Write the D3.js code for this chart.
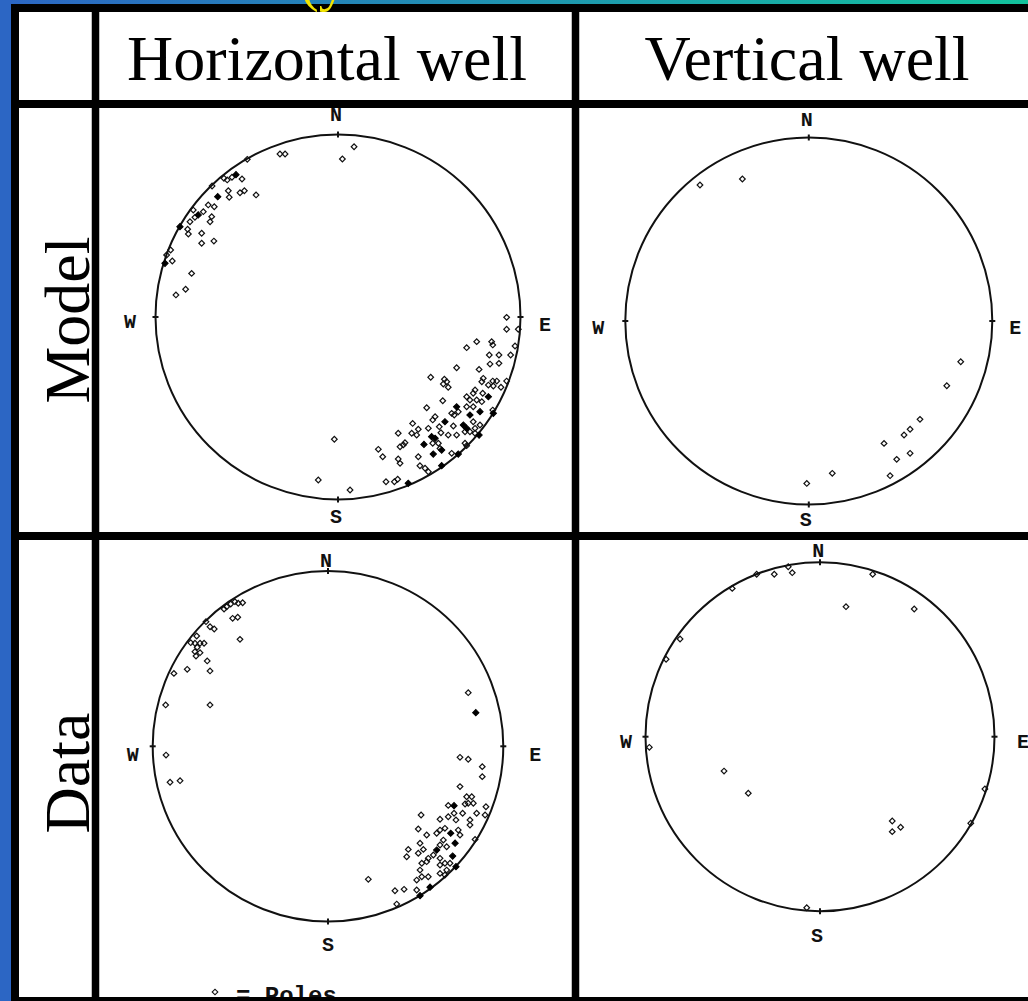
<!DOCTYPE html>
<html>
<head>
<meta charset="utf-8">
<script src="https://cdn.jsdelivr.net/npm/d3@7/dist/d3.min.js"></script>
<style>
  html, body { margin: 0; padding: 0; background: #ffffff; }
  svg { display: block; }
</style>
</head>
<body>
<svg id="chart" width="1028" height="1001"></svg>
<script>
// Table headings
const columns = ["Horizontal well", "Vertical well"];
const rows = ["Model", "Data"];
const directions = ["N", "E", "S", "W"];
const legendText = "= Poles";

// Pole positions on the lower-hemisphere net: [east, north], in % of the primitive radius.
// "Stacked" poles are places where several poles coincide (drawn filled).
const modelHorizontal = [
  [8.8,93.3],[2.4,86.6],[-31.8,89.3],[-29.0,89.3],[-49.7,86.4],[-62.5,76.0],[-60.7,75.1],[-58.1,76.6],
  [-52.6,75.6],[-69.0,71.8],[-60.1,69.2],[-59.6,65.6],[-53.7,68.1],[-51.3,69.2],[-44.9,66.9],[-79.3,58.6],
  [-73.8,57.7],[-71.1,61.4],[-67.8,60.4],[-69.2,55.0],[-70.1,52.2],[-81.1,52.2],[-78.4,54.6],[-82.4,48.1],
  [-82.0,45.5],[-74.7,45.9],[-74.7,40.4],[-68.0,41.6],[-91.7,36.7],[-93.9,34.0],[-90.8,30.7],[-80.2,23.9],
  [-83.5,15.2],[-88.8,12.1],
  [92.4,-0.2],[92.4,-6.7],[98.8,-6.7],[97.0,-15.9],[84.2,-13.5],[84.8,-15.3],[76.0,-13.5],[70.5,-16.8],
  [82.9,-20.8],[88.2,-20.8],[94.6,-20.8],[83.3,-25.8],[88.2,-25.4],[65.0,-27.8],[77.3,-28.7],[50.8,-33.0],
  [58.3,-34.1],[59.6,-35.5],[57.7,-36.7],[60.4,-38.5],[79.6,-33.6],[78.8,-35.5],[84.8,-35.1],[87.0,-35.1],
  [82.4,-37.3],[85.1,-37.8],[89.3,-38.5],[92.4,-35.1],[75.1,-40.0],[74.1,-41.8],[79.3,-41.8],[70.5,-43.7],
  [72.3,-45.5],[57.4,-45.9],[76.0,-45.5],[74.1,-49.2],[78.8,-46.4],[48.6,-49.7],[70.5,-49.2],[62.3,-52.8],
  [63.7,-53.7],[65.9,-51.9],[84.8,-51.0],[53.2,-54.6],[51.9,-56.4],[63.2,-59.7],[74.1,-57.4],[75.1,-61.0],
  [77.8,-59.2],[40.9,-58.3],[44.0,-61.5],[49.5,-61.0],[55.5,-60.1],[56.4,-63.4],[60.4,-64.7],[65.0,-64.7],
  [69.6,-62.9],[72.3,-62.9],[75.1,-63.7],[33.0,-63.7],[40.4,-63.7],[43.1,-64.7],[55.0,-69.2],[55.9,-72.0],
  [34.0,-71.1],[35.8,-70.1],[36.7,-68.9],[22.1,-72.5],[51.9,-69.2],[44.0,-76.6],[62.3,-74.7],[69.6,-69.2],
  [70.5,-70.5],[24.5,-76.6],[33.0,-77.8],[34.0,-80.2],[44.9,-81.5],[47.7,-82.9],[49.5,-84.8],[-2.0,-67.0],
  [26.3,-90.3],[30.9,-90.3],[32.7,-88.9],[-10.8,-89.3],[6.6,-94.8]
];
const modelHorizontalStacked = [
  [-55.9,78.0],[-65.9,65.9],[-76.6,55.9],[-86.6,49.5],[-94.8,29.4],
  [82.4,-43.7],[65.0,-49.2],[72.3,-53.7],[77.8,-51.9],[85.1,-52.8],[58.6,-57.4],[68.7,-59.2],[70.5,-61.0],
  [77.3,-64.7],[51.3,-65.6],[53.2,-66.5],[47.1,-69.8],[56.8,-72.9],[52.2,-75.1],[65.9,-75.1],[56.8,-81.5],
  [38.5,-91.1]
];

const modelVertical = [
  [-59.3,74.1],[-36.2,77.4],[82.8,-22.2],[75.2,-35.3],[60.6,-53.6],[55.2,-59.0],[51.9,-62.1],[41.0,-66.7],
  [55.2,-72.1],[47.9,-75.4],[44.3,-84.3],[12.8,-83.0],[-1.1,-88.5]
];
const modelVerticalStacked = [];

const dataHorizontal = [
  [-57.8,79.6],[-55.5,81.2],[-53.1,82.5],[-51.2,81.6],[-48.7,81.9],[-59.3,78.3],[-54.4,73.0],[-51.5,73.6],
  [-69.6,71.1],[-67.3,68.2],[-64.9,66.9],[-74.9,62.9],[-78.3,59.1],[-75.9,58.8],[-73.0,58.8],[-70.7,58.8],
  [-74.6,56.5],[-75.9,54.0],[-73.0,53.4],[-75.3,51.5],[-50.2,61.0],[-68.9,48.7],[-67.3,43.0],[-80.3,43.9],
  [-87.9,41.6],[-92.6,23.6],[-67.3,23.6],[-92.4,-5.0],[-90.1,-20.5],[-84.4,-19.6],
  [80.0,30.6],[75.3,-6.3],[80.0,-7.4],[88.0,-11.6],[88.0,-17.3],[75.3,-23.0],[79.1,-28.8],[82.0,-28.8],
  [80.0,-32.5],[78.2,-32.9],[82.9,-32.5],[68.6,-33.7],[76.8,-38.2],[84.8,-38.2],[90.1,-34.5],[89.6,-39.2],
  [53.1,-39.2],[71.9,-38.2],[68.6,-40.2],[73.0,-42.0],[81.0,-42.0],[81.0,-44.9],[63.9,-41.6],[51.5,-47.2],
  [56.3,-50.6],[62.0,-49.6],[63.9,-47.8],[66.7,-46.8],[74.3,-47.8],[75.3,-50.6],[65.8,-53.5],[67.7,-57.3],
  [63.9,-56.3],[83.9,-53.1],[45.8,-58.8],[44.9,-63.0],[52.5,-55.3],[54.4,-58.8],[51.5,-61.0],[60.1,-62.0],
  [63.9,-63.9],[57.2,-63.9],[56.3,-65.8],[53.5,-66.7],[66.7,-66.7],[63.9,-67.7],[69.6,-66.7],[67.7,-70.6],
  [52.5,-70.6],[53.5,-74.4],[50.6,-76.3],[57.2,-74.4],[63.9,-72.5],[66.7,-73.4],[23.0,-75.9],[38.2,-82.4],
  [43.4,-81.6],[50.6,-82.0],[39.2,-90.0]
];
const dataHorizontalStacked = [
  [84.3,19.2],[71.9,-33.9],[70.0,-49.6],[72.5,-55.3],[62.0,-59.2],[71.1,-62.6],[73.0,-68.7],[58.2,-80.4],
  [52.5,-85.2]
];

const dataVertical = [
  [-18.2,97.4],[-15.9,94.0],[-26.2,93.1],[-36.3,93.1],[-50.3,85.0],[30.2,93.1],[14.9,74.5],[54.0,73.2],
  [-80.2,56.0],[-88.2,44.4],[-97.8,-6.1],[-55.0,-19.7],[-41.1,-32.4],[41.4,-48.3],[46.2,-51.9],[41.4,-54.4],
  [94.5,-30.0],[86.4,-49.6],[-7.6,-98.0]
];
const dataVerticalStacked = [];

// Geometry of each cell's net and where its compass letters sit
const panels = [
  { row: 0, col: 0, cx: 338, cy: 317, r: 182.5, poles: modelHorizontal, stacked: modelHorizontalStacked,
    lab: { N: [-2, -19.5], S: [-2, 17.5], W: [-25.5, 5], E: [24.5, 8] } },
  { row: 0, col: 1, cx: 808.8, cy: 321, r: 183.5, poles: modelVertical, stacked: modelVerticalStacked,
    lab: { N: [-2, -17.5], S: [-3, 16], W: [-27, 7], E: [23, 7] } },
  { row: 1, col: 0, cx: 328, cy: 746.3, r: 175.3, poles: dataHorizontal, stacked: dataHorizontalStacked,
    lab: { N: [-2, -9.5], S: [0, 23.5], W: [-20, 9], E: [32, 9] } },
  { row: 1, col: 1, cx: 820, cy: 736.7, r: 174.5, poles: dataVertical, stacked: dataVerticalStacked,
    lab: { N: [-1.7, -10.5], S: [-3, 25], W: [-19.5, 6], E: [28.5, 6] } }
];

const svg = d3.select("#chart");
const W = 1028, H = 1001;

// Slide backdrop: blue band on the left, blue-to-teal band across the top
const defs = svg.append("defs");
const grad = defs.append("linearGradient").attr("id", "topband").attr("x1", "0%").attr("x2", "100%");
grad.append("stop").attr("offset", "0%").attr("stop-color", "#2c66c4");
grad.append("stop").attr("offset", "100%").attr("stop-color", "#12c29c");
svg.append("rect").attr("x", 0).attr("y", 0).attr("width", W).attr("height", 12).attr("fill", "url(#topband)");
svg.append("rect").attr("x", 0).attr("y", 0).attr("width", 12).attr("height", H).attr("fill", "#2c66c4");

// Table body
svg.append("rect").attr("x", 11).attr("y", 4).attr("width", W).attr("height", H).attr("fill", "#ffffff");

// Grid lines of the table
const gridLines = svg.append("g").attr("stroke", "#000").attr("fill", "none");
const vLines = [15, 95.5, 575.5];
const hLines = [8, 104, 536, 1001];
vLines.forEach(x => gridLines.append("line").attr("x1", x).attr("x2", x).attr("y1", 4).attr("y2", H)
  .attr("stroke-width", x === 15 ? 8 : 7.5));
hLines.forEach(y => gridLines.append("line").attr("x1", 11).attr("x2", W).attr("y1", y).attr("y2", y)
  .attr("stroke-width", 8));

// Slide title descenders peeking over the table
svg.append("text").attr("x", 300).attr("y", 0)
  .attr("font-family", "'Liberation Serif', 'Times New Roman', serif")
  .attr("font-size", 56).attr("fill", "#f2e400").text("(y");

// Column headings
const colCenters = [327, 807];
svg.selectAll("text.colhead").data(columns).join("text")
  .attr("class", "colhead")
  .attr("x", (d, i) => colCenters[i]).attr("y", 80)
  .attr("text-anchor", "middle")
  .attr("font-family", "'Liberation Serif', 'Times New Roman', serif")
  .attr("font-size", 64).attr("fill", "#000").text(d => d);

// Row headings, rotated to read upward
const rowCenters = [320, 773];
svg.selectAll("text.rowhead").data(rows).join("text")
  .attr("class", "rowhead")
  .attr("transform", (d, i) => `translate(89,${rowCenters[i]}) rotate(-90)`)
  .attr("text-anchor", "middle")
  .attr("font-family", "'Liberation Serif', 'Times New Roman', serif")
  .attr("font-size", 64).attr("fill", "#000").text(d => d);

// Pole markers: open diamonds, filled where poles stack
const diamond = d3.symbol().type(d3.symbolSquare).size(16)();
const diamondFilled = d3.symbol().type(d3.symbolSquare).size(20)();
const dirAngle = { N: 0, E: 90, S: 180, W: 270 };

panels.forEach(p => {
  const x = d3.scaleLinear().domain([-100, 100]).range([p.cx - p.r, p.cx + p.r]);
  const y = d3.scaleLinear().domain([-100, 100]).range([p.cy + p.r, p.cy - p.r]);
  const R = x(100) - x(0);
  const g = svg.append("g");

  // Primitive circle
  g.append("circle").attr("cx", x(0)).attr("cy", y(0)).attr("r", R)
    .attr("fill", "none").attr("stroke", "#111").attr("stroke-width", 2);

  // Cardinal ticks across the primitive
  g.selectAll("line.tick").data(directions).join("line")
    .attr("class", "tick")
    .attr("x1", d => x(0) + Math.sin(dirAngle[d] * Math.PI / 180) * (R - 3))
    .attr("y1", d => y(0) - Math.cos(dirAngle[d] * Math.PI / 180) * (R - 3))
    .attr("x2", d => x(0) + Math.sin(dirAngle[d] * Math.PI / 180) * (R + 3))
    .attr("y2", d => y(0) - Math.cos(dirAngle[d] * Math.PI / 180) * (R + 3))
    .attr("stroke", "#111").attr("stroke-width", 2);

  // Compass letters
  g.selectAll("text.dir").data(directions).join("text")
    .attr("class", "dir")
    .attr("x", d => x(0) + Math.sin(dirAngle[d] * Math.PI / 180) * R + p.lab[d][0])
    .attr("y", d => y(0) - Math.cos(dirAngle[d] * Math.PI / 180) * R + p.lab[d][1])
    .attr("text-anchor", "middle").attr("dominant-baseline", "central")
    .attr("font-family", "'Liberation Mono', 'DejaVu Sans Mono', monospace")
    .attr("font-weight", "bold").attr("font-size", 20).attr("fill", "#111")
    .text(d => d);

  // Poles
  g.selectAll("path.pole").data(p.poles).join("path")
    .attr("class", "pole")
    .attr("d", diamond)
    .attr("transform", d => `translate(${x(d[0])},${y(d[1])}) rotate(45)`)
    .attr("fill", "none").attr("stroke", "#111").attr("stroke-width", 1.2);

  g.selectAll("path.stack").data(p.stacked).join("path")
    .attr("class", "stack")
    .attr("d", diamondFilled)
    .attr("transform", d => `translate(${x(d[0])},${y(d[1])}) rotate(45)`)
    .attr("fill", "#000").attr("stroke", "#000").attr("stroke-width", 1);
});

// Legend under the horizontal-well data net
const legend = svg.append("g");
legend.append("path").attr("d", diamond).attr("transform", "translate(215,992) rotate(45)")
  .attr("fill", "none").attr("stroke", "#111").attr("stroke-width", 1.1);
legend.append("text").attr("x", 236).attr("y", 1003)
  .attr("font-family", "'Liberation Mono', 'DejaVu Sans Mono', monospace")
  .attr("font-weight", "bold").attr("font-size", 24).attr("fill", "#111")
  .attr("xml:space", "preserve").text(legendText);

// Bottom border drawn last so the legend tucks under it
svg.append("line").attr("x1", 11).attr("x2", W).attr("y1", 1001).attr("y2", 1001)
  .attr("stroke", "#000").attr("stroke-width", 8);
</script>
</body>
</html>
